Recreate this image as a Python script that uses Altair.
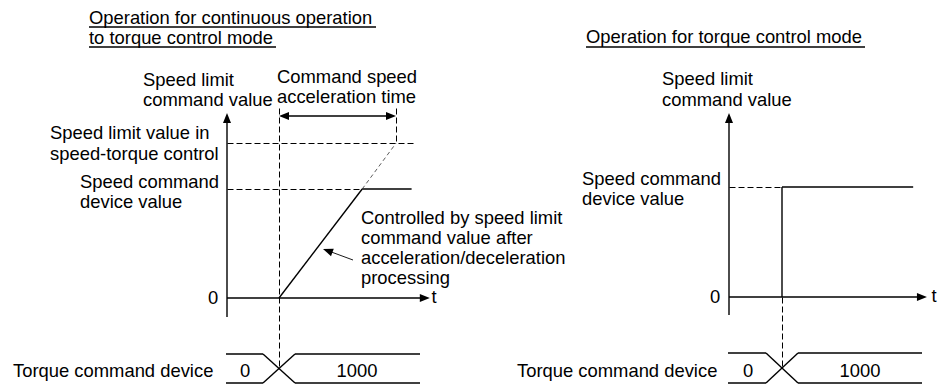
import altair as alt
import pandas as pd

# ---------------- diagram values (abstract time / speed units) ----------------
# left panel: continuous operation to torque control mode
L_T_SWITCH = 2.0      # switch to torque control
L_T_REACH = 5.2       # speed command device value reached
L_T_LIMIT = 6.5       # speed limit value would be reached
L_T_END = 7.1         # end of drawn signal
L_T_AXIS = 7.8        # tip of t axis
# right panel: torque control mode
R_T_SWITCH = 2.0
R_T_END = 6.95
R_T_AXIS = 7.47
SPEED_CMD = 100       # speed command device value
SPEED_LIMIT = 142     # speed limit value in speed-torque control
TORQUE_VALUES = ["0", "1000"]

LEFT_TITLE = ["Operation for continuous operation", "to torque control mode"]
RIGHT_TITLE = ["Operation for torque control mode"]
Y_LABEL = ["Speed limit", "command value"]
ACC_LABEL = ["Command speed", "acceleration time"]
LIMIT_LABEL = ["Speed limit value in", "speed-torque control"]
CMD_LABEL = ["Speed command", "device value"]
NOTE_LABEL = ["Controlled by speed limit", "command value after",
              "acceleration/deceleration", "processing"]
TORQUE_LABEL = "Torque command device"

# ---------------- layout (page pixels) ----------------
W, H = 930, 376
L0 = dict(x=227, y=298, kx=26.0, kv=1.09)
R0 = dict(x=729, y=297, kx=26.5, kv=1.10)


def px(p, t):
    return p["x"] + p["kx"] * t


def py(p, v):
    return p["y"] - p["kv"] * v


segs = []


def seg(x1, y1, x2, y2, style):
    segs.append(dict(x=x1, y=y1, x2=x2, y2=y2, style=style))


def dseg(x1, y1, x2, y2):
    # crisp 1px dashed line
    seg(round(x1) + 0.5, round(y1) + 0.5, round(x2) + 0.5, round(y2) + 0.5, "dash")


# ---- left panel ----
lx_sw, lx_reach, lx_lim, lx_end = (px(L0, L_T_SWITCH), px(L0, L_T_REACH),
                                   px(L0, L_T_LIMIT), px(L0, L_T_END))
ly_cmd, ly_lim = py(L0, SPEED_CMD), py(L0, SPEED_LIMIT)
seg(L0["x"], 122, L0["x"], 317, "solid")                # speed axis
seg(L0["x"], L0["y"], px(L0, L_T_AXIS) - 9, L0["y"], "solid")  # t axis
seg(lx_sw, L0["y"], lx_reach, ly_cmd, "solid")            # ramp
seg(lx_reach, ly_cmd, lx_end, ly_cmd, "solid")            # flat
seg(lx_reach, ly_cmd, lx_lim, ly_lim, "thin")             # ramp extension
dseg(L0["x"], ly_lim, 415, ly_lim)
dseg(L0["x"], ly_cmd, lx_reach, ly_cmd)
dseg(lx_sw, 108, lx_sw, 369)
dseg(lx_lim, 108, lx_lim, ly_lim)
seg(lx_sw + 8, 116, lx_lim - 8, 116, "solid")             # acceleration time span
seg(353, 260, 330, 251.5, "leader")                      # note leader
seg(89, 27, 376, 27, "solid")                            # title underline
seg(89, 47, 276, 47, "solid")

# ---- right panel ----
rx_sw, rx_end = px(R0, R_T_SWITCH), px(R0, R_T_END)
ry_cmd = py(R0, SPEED_CMD)
seg(R0["x"], 122, R0["x"], 315, "solid")
seg(R0["x"], R0["y"], px(R0, R_T_AXIS) - 9, R0["y"], "solid")
seg(rx_sw, R0["y"], rx_sw, ry_cmd, "solid")
seg(rx_sw, ry_cmd, rx_end, ry_cmd, "solid")
dseg(R0["x"], ry_cmd, rx_sw, ry_cmd)
dseg(rx_sw, R0["y"], rx_sw, 369)
seg(586, 47, 865, 47, "solid")

# ---- torque command device bands ----
for x_left, x_sw, x_right, top in [(226, lx_sw, 420, 354), (728, rx_sw, 922, 353)]:
    bot = 383
    a, b = x_sw - 16, x_sw + 16
    seg(x_left, top, a, top, "solid")
    seg(x_left, bot, a, bot, "solid")
    seg(b, top, x_right, top, "solid")
    seg(b, bot, x_right, bot, "solid")
    seg(a, top, b, bot, "solid")
    seg(a, bot, b, top, "solid")

segdf = pd.DataFrame(segs)

# ---- arrow heads ----
heads = pd.DataFrame([
    dict(x=L0["x"], y=118, angle=270),
    dict(x=px(L0, L_T_AXIS) - 5, y=L0["y"], angle=0),
    dict(x=R0["x"], y=118, angle=270),
    dict(x=px(R0, R_T_AXIS) - 5, y=R0["y"], angle=0),
    dict(x=lx_sw + 5, y=116, angle=180),
    dict(x=lx_lim - 5, y=116, angle=0),
    dict(x=327.7, y=250.7, angle=200),
])

# ---- texts ----
texts = []


def txt(lines, x, y0, step=20.5, align="left"):
    for i, s in enumerate(lines):
        texts.append(dict(x=x, y=y0 + i * step, text=s, align=align))


txt(LEFT_TITLE, 89, 24, 20)
txt(RIGHT_TITLE, 586, 43)
txt(Y_LABEL, 143, 86, 20)
txt(ACC_LABEL, 277, 83, 20)
txt(LIMIT_LABEL, 50, 139, 21)
txt(CMD_LABEL, 80, 188, 20)
txt(NOTE_LABEL, 361, 224, 20)
txt(["0"], 213, 304, align="center")
txt(["t"], 434, 303, align="center")
txt([TORQUE_LABEL], 13, 377)
txt([TORQUE_VALUES[0]], 245, 377, align="center")
txt([TORQUE_VALUES[1]], 357, 377, align="center")
txt(Y_LABEL, 662, 85, 21)
txt(CMD_LABEL, 582, 185, 20)
txt(["0"], 715, 303, align="center")
txt(["t"], 934, 302, align="center")
txt([TORQUE_LABEL], 517, 377)
txt([TORQUE_VALUES[0]], 748, 377, align="center")
txt([TORQUE_VALUES[1]], 860, 377, align="center")
textdf = pd.DataFrame(texts)

X = alt.X("x:Q", axis=None, scale=alt.Scale(domain=[8, 8 + W], range=[0, W]))
Y = alt.Y("y:Q", axis=None, scale=alt.Scale(domain=[8, 8 + H], range=[0, H]))

base_seg = alt.Chart(segdf)


def seg_layer(style, **mk):
    return base_seg.transform_filter(alt.datum.style == style).mark_rule(**mk).encode(
        x=X, y=Y, x2="x2:Q", y2="y2:Q")


layers = [
    seg_layer("solid", color="black", strokeWidth=1.4),
    seg_layer("dash", color="black", strokeWidth=1.0, strokeDash=[6, 3]),
    seg_layer("thin", color="#333333", strokeWidth=0.8, strokeDash=[4, 3]),
    seg_layer("leader", color="black", strokeWidth=0.9),
    alt.Chart(heads).mark_point(
        shape="M1,0L-1,-0.8L-1,0.8Z", filled=True, color="black", opacity=1,
        size=100, strokeWidth=0).encode(
        x=X, y=Y, angle=alt.Angle("angle:Q", scale=None)),
]
for al in ["left", "center"]:
    layers.append(
        alt.Chart(textdf).transform_filter(alt.datum.align == al).mark_text(
            align=al, baseline="alphabetic", font="Liberation Sans",
            fontSize=18.4, color="black").encode(x=X, y=Y, text="text:N"))

chart = alt.layer(*layers).properties(
    width=W, height=H, padding=0, autosize=alt.AutoSizeParams(type="none")
).configure_view(stroke=None)

chart.save("out.html", embed_options={"renderer": "svg", "actions": False})
